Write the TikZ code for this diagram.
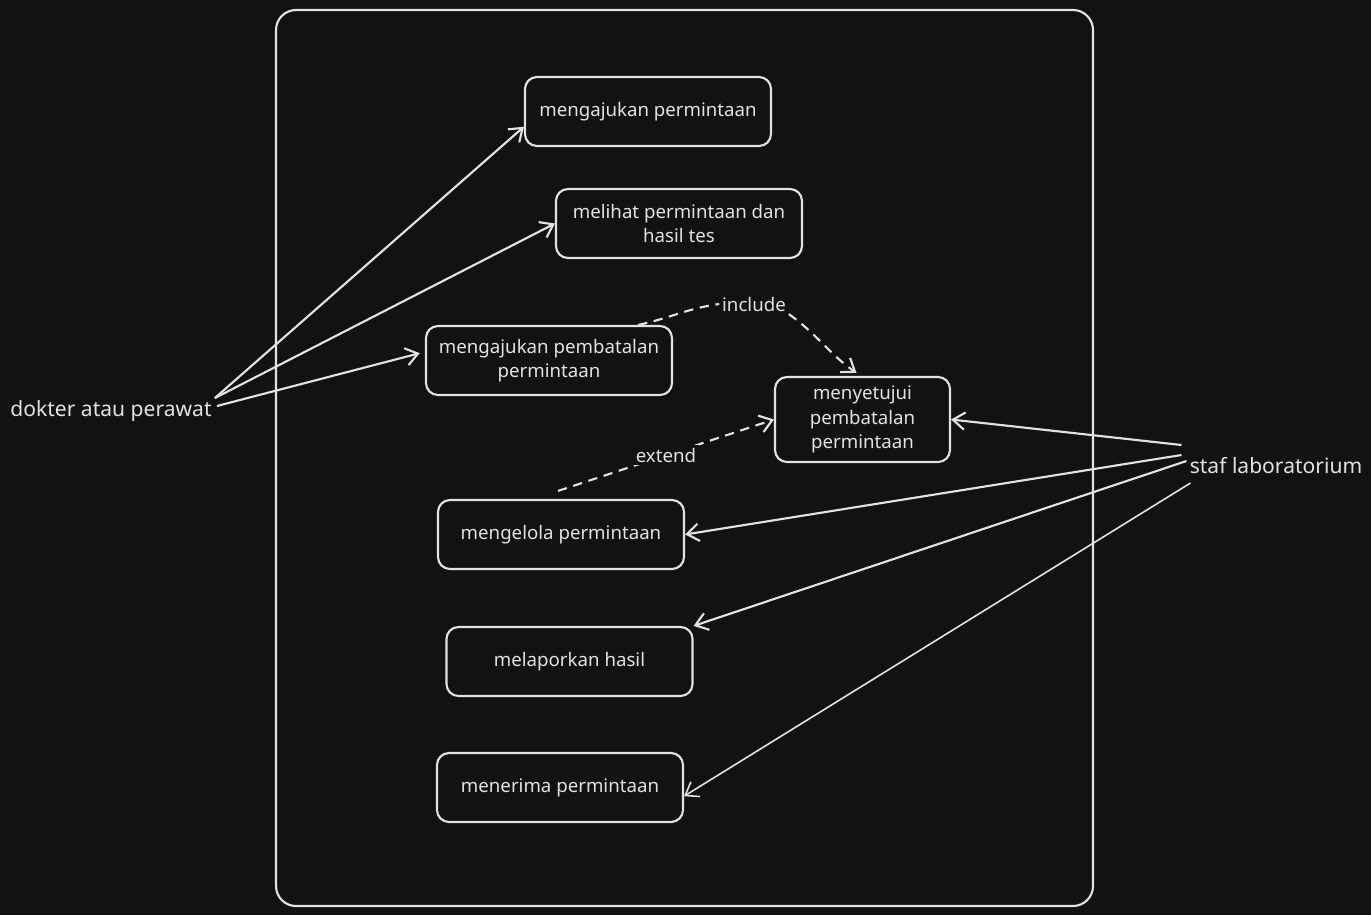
\documentclass[tikz,border=0pt]{standalone}
\usepackage{fontspec}
\setmainfont{Noto Sans}
\usetikzlibrary{arrows.meta,calc}

\definecolor{bg}{HTML}{121212}
\definecolor{ink}{HTML}{E2E2E2}
\newcommand{\ucfont}{\fontsize{14pt}{18.4pt}\selectfont}
\newcommand{\actorfont}{\fontsize{15.8pt}{19pt}\selectfont}

\tikzset{
  ucbox/.style={draw=ink,line width=1.6pt,rounded corners=9pt,minimum width=184.5pt,minimum height=51.75pt,inner sep=0pt,align=center,text=ink,font=\ucfont},
  actor/.style={inner sep=0pt,text=ink,font=\actorfont},
  assoc/.style={draw=ink,line width=1.6pt,-{Straight Barb[length=9pt,width=13pt]}},
  depline/.style={draw=ink,line width=1.6pt,dash pattern=on 7pt off 5pt},
  dep/.style={depline,-{Straight Barb[length=9pt,width=13pt]}},
  deplabel/.style={fill=bg,inner sep=2pt,text=ink,font=\ucfont}
}

\begin{document}
\begin{tikzpicture}[x=0.75pt,y=-0.75pt]
            \fill[bg] (0,0) rectangle (1371,915);
            \useasboundingbox (0,0) rectangle (1371,915);

            \draw[ink,line width=1.6pt,rounded corners=15pt] (276,10) rectangle (1093,906);

            \node[ucbox] (aju) at (648,111.5) {mengajukan permintaan};
            \node[ucbox] (lihat) at (679,223.5) {melihat permintaan dan\\hasil tes};
            \node[ucbox] (ajuBatal) at (549,360.5) {mengajukan pembatalan\\permintaan};
            \node[ucbox,minimum width=131.25pt,minimum height=63.75pt] (setuju) at (862.5,419.5) {menyetujui\\pembatalan\\permintaan};
            \node[ucbox] (kelola) at (561,534.5) {mengelola permintaan};
            \node[ucbox] (lapor) at (569.5,661.5) {melaporkan hasil};
            \node[ucbox] (terima) at (560,787.5) {menerima permintaan};

            \node[actor] (dokter) at (111,411) {dokter atau perawat};
            \node[actor] (staf) at (1276,466) {staf laboratorium};

            \draw[assoc] ($(dokter.east)+(3,-13)$) -- (aju.187);
            \draw[assoc] ($(dokter.east)+(3,-13)$) -- (lihat.west);
            \draw[assoc,shorten >=4pt] ($(dokter.east)+(5,-5)$) -- (ajuBatal.176);

            \draw[assoc] ($(staf.west)+(-8,-21)$) -- (setuju.east);
            \draw[assoc] ($(staf.west)+(-8,-11)$) -- (kelola.east);
            \draw[assoc] ($(staf.west)+(-3,-5)$) -- (lapor.north east);
            \draw[assoc,line width=1.2pt] ($(staf.west)+(1,17)$) -- (terima.-4);

            \node[deplabel] (inc) at (754,304) {include};
            \draw[depline] ($(ajuBatal.north east)+(-35,0)$) to[out=12,in=188] (inc.west);
            \draw[dep] (inc.south east) to[out=-35,in=145] ($(setuju.north)+(-6,-3)$);

            \draw[dep] ($(kelola.north)+(-3,-8)$) -- node[deplabel] {extend} (setuju.west);
        \end{tikzpicture}
\end{document}
